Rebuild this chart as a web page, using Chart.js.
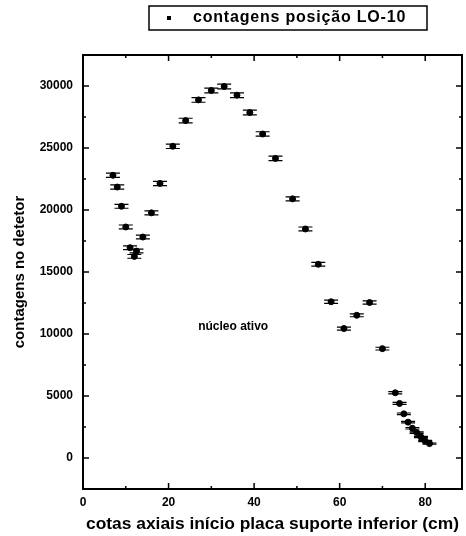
<!DOCTYPE html>
<html>
<head>
<meta charset="utf-8">
<script src="https://cdn.jsdelivr.net/npm/chart.js@4.4.1/dist/chart.umd.min.js"></script>
<style>
  html, body { margin: 0; padding: 0; background: #fff; }
  #wrap { width: 466px; height: 536px; position: relative; }
</style>
</head>
<body>
<div id="wrap"><canvas id="chart"></canvas></div>
<script>
// cota axial (cm) e contagens
const cotas = [7, 8, 9, 10, 11, 12, 12.5, 14, 16, 18, 21, 24, 27, 30, 33, 36, 39, 42, 45, 49, 52, 55, 58, 61, 64, 67, 70, 73, 74, 75, 76, 77, 78, 79, 80, 81];
const contagens = [22800, 21850, 20300, 18630, 16960, 16260, 16690, 17820, 19770, 22140, 25140, 27210, 28880, 29640, 29960, 29260, 27860, 26130, 24160, 20900, 18470, 15620, 12600, 10440, 11510, 12540, 8820, 5260, 4400, 3560, 2890, 2400, 2050, 1700, 1375, 1160];
const erros = [170, 170, 160, 160, 150, 150, 150, 150, 160, 170, 180, 190, 190, 190, 190, 190, 190, 180, 180, 160, 160, 150, 130, 120, 120, 130, 110, 90, 80, 70, 60, 60, 60, 50, 50, 50];

const xTicks = [0, 20, 40, 60, 80];
const xMinor = [10, 30, 50, 70];
const yTicks = [0, 5000, 10000, 15000, 20000, 25000, 30000];
const yMinor = [2500, 7500, 12500, 17500, 22500, 27500];

const legendLabel = "contagens posição LO-10";
const anotacao = { x: 35.1, y: 10600, text: "núcleo ativo" };

const FONT = "'Liberation Sans', Arial, sans-serif";

const errorBars = {
  id: "errorBars",
  afterDatasetsDraw(chart) {
    const { ctx, scales: { x, y } } = chart;
    ctx.save();
    ctx.strokeStyle = "#000";
    ctx.lineWidth = 1.2;
    cotas.forEach((c, i) => {
      const px = x.getPixelForValue(c);
      const top = y.getPixelForValue(contagens[i] + erros[i]);
      const bot = y.getPixelForValue(contagens[i] - erros[i]);
      ctx.beginPath();
      ctx.moveTo(px, top); ctx.lineTo(px, bot);
      ctx.moveTo(px - 7, top); ctx.lineTo(px + 7, top);
      ctx.moveTo(px - 7, bot); ctx.lineTo(px + 7, bot);
      ctx.stroke();
    });
    ctx.restore();
  }
};

const frame = {
  id: "frame",
  afterDraw(chart) {
    const { ctx, chartArea: a, scales: { x, y } } = chart;
    ctx.save();
    ctx.strokeStyle = "#000";
    ctx.lineWidth = 2;
    ctx.strokeRect(a.left, a.top, a.right - a.left, a.bottom - a.top);
    ctx.lineWidth = 1.5;
    const tickX = (v, len) => {
      const p = x.getPixelForValue(v);
      ctx.beginPath();
      ctx.moveTo(p, a.bottom); ctx.lineTo(p, a.bottom - len);
      ctx.moveTo(p, a.top); ctx.lineTo(p, a.top + len);
      ctx.stroke();
    };
    const tickY = (v, len) => {
      const p = y.getPixelForValue(v);
      ctx.beginPath();
      ctx.moveTo(a.left, p); ctx.lineTo(a.left + len, p);
      ctx.moveTo(a.right, p); ctx.lineTo(a.right - len, p);
      ctx.stroke();
    };
    xTicks.forEach(v => tickX(v, 6));
    xMinor.forEach(v => tickX(v, 3));
    yTicks.forEach(v => tickY(v, 6));
    yMinor.forEach(v => tickY(v, 3));

    // anotação
    ctx.fillStyle = "#000";
    ctx.font = "bold 12px " + FONT;
    ctx.textAlign = "center";
    ctx.textBaseline = "middle";
    ctx.fillText(anotacao.text, x.getPixelForValue(anotacao.x), y.getPixelForValue(anotacao.y));

    // legenda
    ctx.lineWidth = 1.5;
    ctx.strokeRect(149, 6, 278, 24);
    ctx.fillRect(167, 16, 4, 4);
    ctx.font = "bold 16px " + FONT;
    ctx.letterSpacing = "0.8px";
    ctx.textAlign = "left";
    ctx.fillText(legendLabel, 193, 18);
    ctx.restore();
  }
};

new Chart(document.getElementById("chart"), {
  type: "scatter",
  data: {
    datasets: [{
      label: legendLabel,
      data: cotas.map((c, i) => ({ x: c, y: contagens[i] })),
      backgroundColor: "#000",
      borderColor: "#000",
      pointRadius: 3,
      pointHoverRadius: 3
    }]
  },
  options: {
    responsive: true,
    maintainAspectRatio: false,
    animation: false,
    layout: { padding: { top: 55, right: 2, left: 0, bottom: 0 } },
    plugins: { legend: { display: false }, tooltip: { enabled: false } },
    scales: {
      x: {
        type: "linear",
        min: 0,
        max: 88.6,
        grid: { display: false, drawTicks: false },
        border: { display: false },
        afterBuildTicks: s => { s.ticks = xTicks.map(v => ({ value: v })); },
        afterFit: s => { s.height = 47; },
        ticks: { color: "#000", padding: 6, maxRotation: 0, callback: v => String(v), font: { family: FONT, size: 12, weight: "bold" } },
        title: {
          display: true,
          text: "cotas axiais início placa suporte inferior (cm)",
          color: "#000",
          padding: { top: 0, bottom: 1 },
          font: { family: FONT, size: 17.4, weight: "bold" }
        }
      },
      y: {
        type: "linear",
        min: -2500,
        max: 32500,
        grid: { display: false, drawTicks: false },
        border: { display: false },
        afterBuildTicks: s => { s.ticks = yTicks.map(v => ({ value: v })); },
        afterFit: s => { s.width = 83; },
        ticks: { color: "#000", padding: 10, callback: v => String(v), font: { family: FONT, size: 12, weight: "bold" } },
        title: {
          display: true,
          text: "contagens no detetor",
          color: "#000",
          padding: { top: 11, bottom: 0 },
          font: { family: FONT, size: 15, weight: "bold" }
        }
      }
    }
  },
  plugins: [errorBars, frame]
});
</script>
</body>
</html>
